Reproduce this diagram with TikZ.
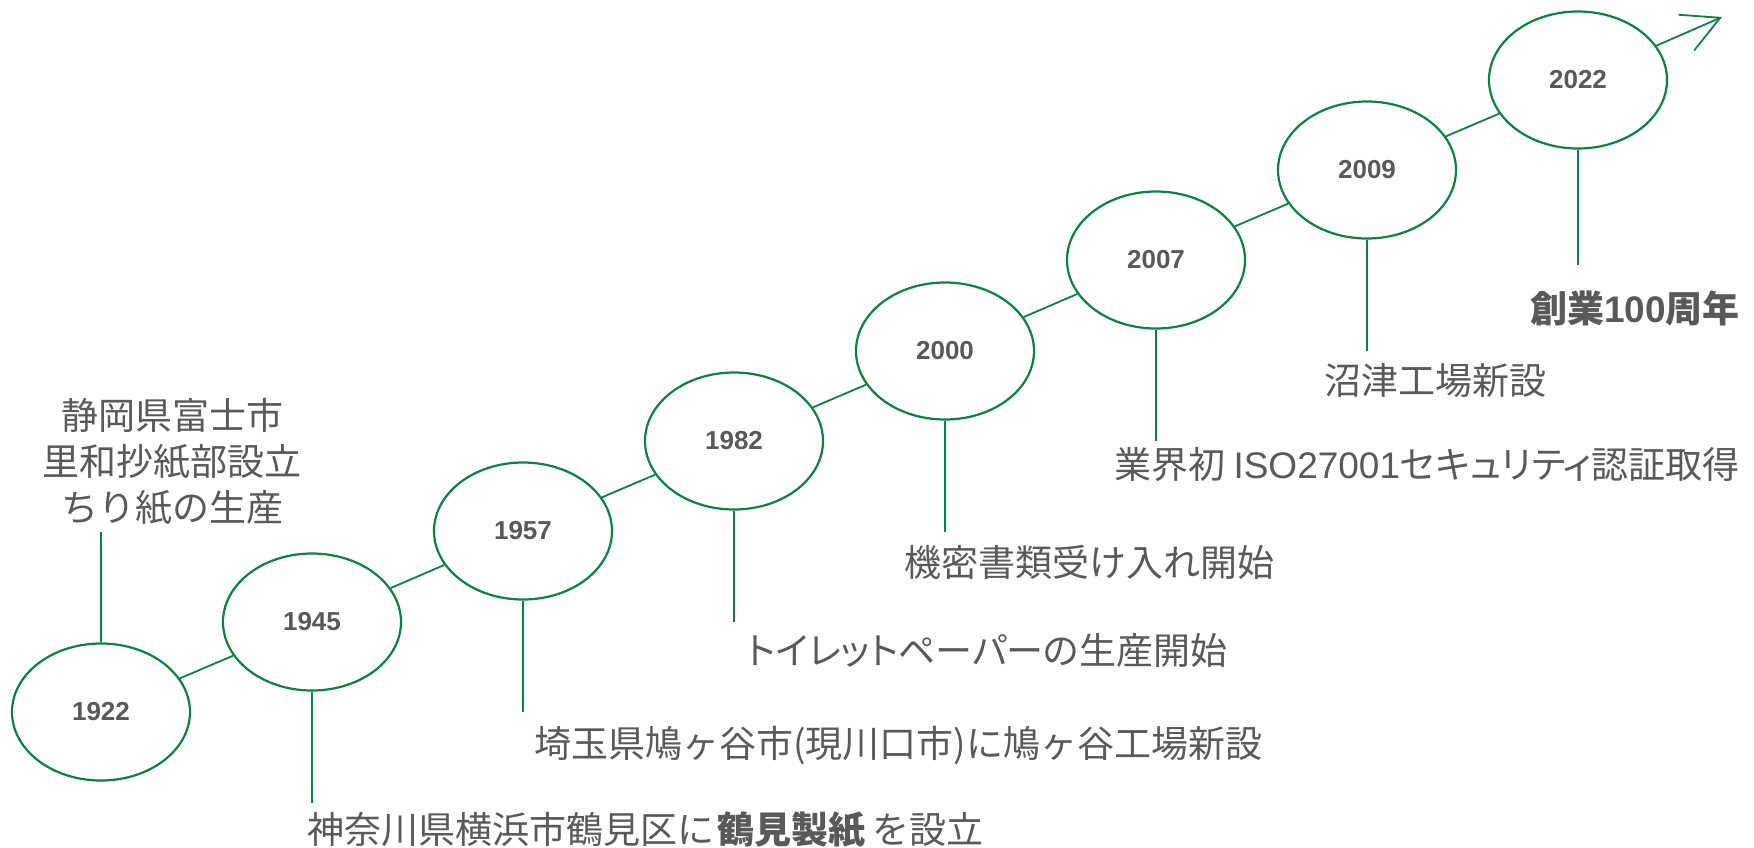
\documentclass[tikz,border=0pt]{standalone}
\usepackage{fontspec}
\setmainfont{Liberation Sans}
\newfontfamily\jp{Noto Sans CJK JP}
\newfontfamily\jpp{Noto Sans CJK JP}[RawFeature=+palt]
\usetikzlibrary{shapes.geometric,arrows.meta}
\definecolor{tgreen}{HTML}{0E7F46}
\definecolor{tgray}{HTML}{595959}
\tikzset{
  yearnode/.style={ellipse, draw=tgreen, line width=2.2pt, minimum width=178pt,
    minimum height=137pt, inner sep=0pt, text=tgray,
    font=\fontsize{26}{30}\selectfont\bfseries},
  conn/.style={draw=tgreen, line width=1.8pt},
  desc/.style={anchor=base west, inner sep=0pt, text=tgray,
    font=\jp\fontsize{37}{46}\selectfont},
}
\begin{document}
\begin{tikzpicture}[x=1pt,y=-1pt]
\useasboundingbox (0,0) rectangle (1754,847);
% year ellipses
\node[yearnode] (y1922) at (101,712) {1922};
\node[yearnode] (y1945) at (312,622) {1945};
\node[yearnode] (y1957) at (523,531) {1957};
\node[yearnode] (y1982) at (734,441) {1982};
\node[yearnode] (y2000) at (945,351) {2000};
\node[yearnode] (y2007) at (1156,260) {2007};
\node[yearnode] (y2009) at (1367,170) {2009};
\node[yearnode] (y2022) at (1578,80) {2022};
% chain
\draw[conn] (y1922) -- (y1945);
\draw[conn] (y1945) -- (y1957);
\draw[conn] (y1957) -- (y1982);
\draw[conn] (y1982) -- (y2000);
\draw[conn] (y2000) -- (y2007);
\draw[conn] (y2007) -- (y2009);
\draw[conn] (y2009) -- (y2022);
\coordinate (aend) at (1722,17);
\draw[conn, -{Straight Barb[length=37pt,width=39pt]}] (y2022) -- (aend);
% stem ends
\coordinate (s1922) at (101,532);
\coordinate (s1945) at (312,803);
\coordinate (s1957) at (523,712);
\coordinate (s1982) at (734,622);
\coordinate (s2000) at (945,532);
\coordinate (s2007) at (1156,441);
\coordinate (s2009) at (1367,351);
\coordinate (s2022) at (1578,265);
\draw[conn] (y1922.north) -- (s1922);
\draw[conn] (y1945.south) -- (s1945);
\draw[conn] (y1957.south) -- (s1957);
\draw[conn] (y1982.south) -- (s1982);
\draw[conn] (y2000.south) -- (s2000);
\draw[conn] (y2007.south) -- (s2007);
\draw[conn] (y2009.south) -- (s2009);
\draw[conn] (y2022.south) -- (s2022);
% labels
\node[desc, anchor=base, align=center] (t1922) at (172,521) {静岡県富士市\\里和抄紙部設立\\ちり紙の生産};
\node[desc] (t1945) at (307,843) {神奈川県横浜市鶴見区に\hspace{3pt}{\bfseries 鶴見製紙}\hspace{7pt}を設立};
\node[desc] (t1957) at (534,757) {埼玉県鳩ヶ谷市(現川口市)に鳩ヶ谷工場新設};
\node[desc, font=\jpp\fontsize{37}{46}\selectfont] (t1982) at (747,664) {トイレットペーパーの生産開始};
\node[desc] (t2000) at (904,576) {機密書類受け入れ開始};
\node[desc, font=\jpp\fontsize{37}{46}\selectfont] (t2007) at (1114,478) {業界初 {\rmfamily ISO27001}セキュリティ認証取得};
\node[desc] (t2009) at (1324,394) {沼津工場新設};
\node[desc] (t2022) at (1530,322) {\bfseries 創業{\rmfamily 100}周年};
\end{tikzpicture}
\end{document}
